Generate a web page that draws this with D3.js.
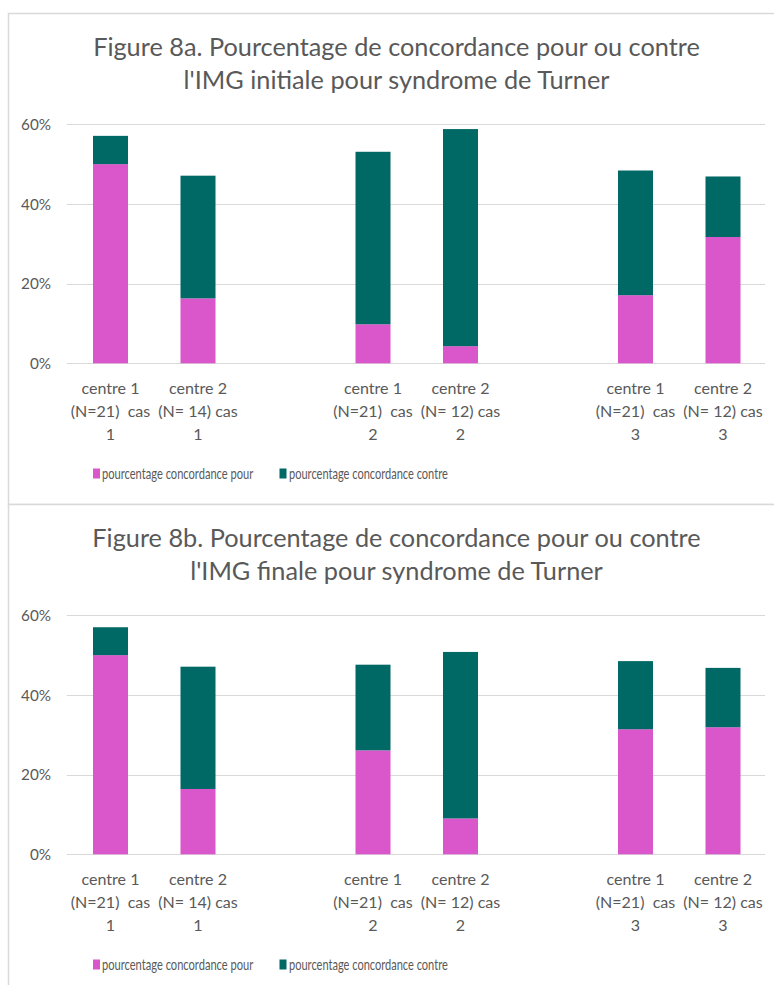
<!DOCTYPE html>
<html>
<head>
<meta charset="utf-8">
<script src="https://cdn.jsdelivr.net/npm/d3@7"></script>
<style>
  html, body { margin: 0; padding: 0; background: #ffffff; }
  svg { display: block; }
</style>
</head>
<body>
<svg id="chart" width="774" height="985"></svg>
<script>
// ---------------- data ----------------
const categories = [
  "centre 1\n(N=21)  cas\n1",
  "centre 2\n(N= 14) cas\n1",
  "",
  "centre 1\n(N=21)  cas\n2",
  "centre 2\n(N= 12) cas\n2",
  "",
  "centre 1\n(N=21)  cas\n3",
  "centre 2\n(N= 12) cas\n3"
];
const seriesNames = ["pourcentage concordance pour", "pourcentage concordance contre"];

// Figure 8a (IMG initiale)
const pourInitiale   = [50.0, 16.3, null, 9.8, 4.3, null, 17.1, 31.7];
const contreInitiale = [7.1, 30.8, null, 43.3, 54.5, null, 31.3, 15.2];
// Figure 8b (IMG finale)
const pourFinale     = [50.0, 16.4, null, 26.1, 9.0, null, 31.4, 31.9];
const contreFinale   = [7.0, 30.7, null, 21.5, 41.8, null, 17.1, 14.9];

const yTicks = [0, 20, 40, 60];
const titleA = ["Figure 8a. Pourcentage de concordance pour ou contre", "l'IMG initiale pour syndrome de Turner"];
const titleB = ["Figure 8b. Pourcentage de concordance pour ou contre", "l'IMG finale pour syndrome de Turner"];

// ---------------- style ----------------
const colors = ["#D957CB", "#006865"];
const textColor = "#595959";
const gridColor = "#d9d9d9";
const FONT = "Lato, Carlito, Calibri, 'Open Sans', sans-serif";

const svg = d3.select("#chart");

// measuring helper
const meas = svg.append("text").attr("font-family", FONT).attr("font-size", 100).attr("visibility", "hidden");
function natWidth(sample, size, weight) {
  meas.attr("font-weight", weight || 400).text(sample);
  return meas.node().getComputedTextLength() * size / 100;
}
function fitSize(sample, target, weight) {
  const w = natWidth(sample, 100, weight);
  return w > 0 ? 100 * target / w : 16;
}
const titleSize = fitSize(titleA[0], 607, 400);
const tickSize  = fitSize("60%", 30, 400);
const catSize   = fitSize("centre 1", 58, 400);
const legSize = catSize * 0.95;
const legWidths = [151.5, 159];
const legScale = seriesNames.map((s, k) => {
  const w = natWidth(s, legSize, 400);
  return w > 0 ? legWidths[k] / w : 1;
});
meas.remove();

function drawChart(offsetY, titleLines, pour, contre) {
  const g = svg.append("g").attr("transform", `translate(0,${offsetY})`);

  // chart frame
  g.append("rect")
    .attr("x", 8.5).attr("y", 13.5)
    .attr("width", 820).attr("height", 491)
    .attr("fill", "#ffffff")
    .attr("stroke", gridColor).attr("stroke-width", 1.5);

  // title
  g.append("text")
    .attr("font-family", FONT).attr("font-weight", 400)
    .attr("font-size", titleSize).attr("fill", textColor)
    .attr("text-anchor", "middle")
    .selectAll("tspan").data(titleLines).join("tspan")
    .attr("x", 396.5)
    .attr("y", (d, i) => 56 + i * 32.5)
    .text(d => d);

  const x = d3.scaleBand()
    .domain(d3.range(categories.length))
    .range([66.75, 766.75])
    .paddingInner(0.6).paddingOuter(0.3);
  const y = d3.scaleLinear().domain([0, 60]).range([363.3, 124.3]);

  // gridlines
  g.append("g").selectAll("line").data(yTicks).join("line")
    .attr("x1", 66.75).attr("x2", 765)
    .attr("y1", d => Math.round(y(d)) + 0.5).attr("y2", d => Math.round(y(d)) + 0.5)
    .attr("stroke", gridColor).attr("stroke-width", 1);

  // y axis labels via d3 axis
  const yAxis = g.append("g")
    .attr("transform", "translate(51,0)")
    .call(d3.axisLeft(y).tickValues(yTicks).tickFormat(d => d + "%").tickSize(0).tickPadding(0));
  yAxis.select(".domain").remove();
  yAxis.selectAll("text")
    .attr("font-family", FONT).attr("font-size", tickSize)
    .attr("fill", textColor).attr("dy", "0.35em");

  // stacked bars
  const rows = categories.map((c, i) => ({ i, pour: pour[i], contre: contre[i] }))
    .filter(r => r.pour != null);
  const stacked = d3.stack().keys(["pour", "contre"])(rows);
  g.append("g").selectAll("g").data(stacked).join("g")
    .attr("fill", (d, k) => colors[k])
    .selectAll("rect").data(d => d).join("rect")
    .attr("x", d => x(d.data.i))
    .attr("width", x.bandwidth())
    .attr("y", d => y(d[1]))
    .attr("height", d => y(d[0]) - y(d[1]));

  // category labels (x axis)
  const lab = g.append("g").selectAll("text").data(categories.map((c, i) => ({ c, i })).filter(d => d.c)).join("text")
    .attr("font-family", FONT).attr("font-size", catSize)
    .attr("fill", textColor).attr("text-anchor", "middle")
    .style("white-space", "pre");
  lab.selectAll("tspan").data(d => d.c.split("\n").map(s => ({ s, cx: x(d.i) + x.bandwidth() / 2 }))).join("tspan")
    .attr("x", d => d.cx)
    .attr("y", (d, j) => 388 + j * 23)
    .attr("dy", "0.35em")
    .text(d => d.s);

  // legend
  const legX = [93, 279.5];
  const legTX = [102, 289];
  const lg = g.append("g").selectAll("g").data(seriesNames).join("g");
  lg.append("rect")
    .attr("x", (d, k) => legX[k]).attr("y", 468.5)
    .attr("width", 7).attr("height", 10)
    .attr("fill", (d, k) => colors[k]);
  lg.append("text")
    .attr("transform", (d, k) => `translate(${legTX[k]},473.5) scale(${legScale[k]},1)`)
    .attr("dy", "0.35em")
    .attr("font-family", FONT).attr("font-size", legSize)
    .attr("fill", textColor)
    .text(d => d);
}

drawChart(0, titleA, pourInitiale, contreInitiale);
drawChart(491, titleB, pourFinale, contreFinale);
</script>
</body>
</html>
